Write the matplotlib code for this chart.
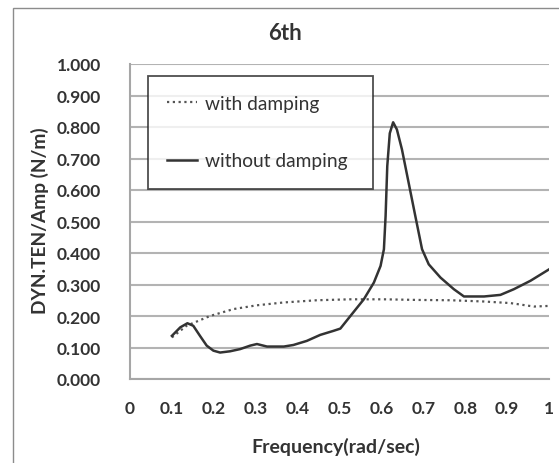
import matplotlib.pyplot as plt
from matplotlib.patches import Rectangle

plt.rcParams['font.family'] = ['Lato', 'DejaVu Sans']

# without damping
freq_nd = [0.10, 0.12, 0.137, 0.151, 0.167, 0.183, 0.199, 0.215, 0.239, 0.263, 0.287, 0.303,
           0.327, 0.367, 0.39, 0.422, 0.454, 0.486, 0.502, 0.526, 0.558, 0.582, 0.598, 0.606,
           0.61, 0.614, 0.62, 0.628, 0.637, 0.649, 0.665, 0.681, 0.697, 0.713, 0.741, 0.773,
           0.797, 0.845, 0.884, 0.916, 0.956, 1.0]
amp_nd = [0.137, 0.164, 0.177, 0.169, 0.137, 0.106, 0.09, 0.084, 0.088, 0.095, 0.106, 0.111,
          0.103, 0.103, 0.108, 0.121, 0.140, 0.153, 0.16, 0.20, 0.253, 0.306, 0.359, 0.412,
          0.517, 0.676, 0.78, 0.815, 0.792, 0.729, 0.623, 0.517, 0.412, 0.364, 0.322, 0.285,
          0.262, 0.262, 0.267, 0.285, 0.312, 0.348]

# with damping
freq_d = [0.10, 0.135, 0.191, 0.247, 0.303, 0.367, 0.446, 0.526, 0.606, 0.685, 0.765,
          0.845, 0.908, 0.964, 1.0]
amp_d = [0.132, 0.169, 0.20, 0.222, 0.234, 0.243, 0.250, 0.253, 0.253, 0.251, 0.250,
         0.246, 0.241, 0.230, 0.232]

xticks = [0, 0.1, 0.2, 0.3, 0.4, 0.5, 0.6, 0.7, 0.8, 0.9, 1]
xlabels = ['0', '0.1', '0.2', '0.3', '0.4', '0.5', '0.6', '0.7', '0.8', '0.9', '1']
yticks = [0.0, 0.1, 0.2, 0.3, 0.4, 0.5, 0.6, 0.7, 0.8, 0.9, 1.0]

fig = plt.figure(figsize=(5.59, 4.64), dpi=100)
W, H = 559, 464

# outer chart border (cut off at right and bottom)
fig.patches.append(Rectangle((13 / W, -0.1), 1.2, 1 - 9 / H + 0.1, transform=fig.transFigure,
                             fill=False, edgecolor='#8c8c8c', linewidth=1.0))

ax = fig.add_axes([130 / W, 1 - 380 / H, 419 / W, 315 / H])

ax.plot(freq_d, amp_d, color='#555555', linestyle=(0, (1, 1.6)), linewidth=1.6, label='with damping')
ax.plot(freq_nd, amp_nd, color='#333333', linestyle='-', linewidth=1.8, label='without damping')

ax.set_xlim(0, 1)
ax.set_ylim(0, 1)
ax.set_xticks(xticks)
ax.set_xticklabels(xlabels)
ax.set_yticks(yticks)
ax.set_yticklabels([f'{v:.3f}' for v in yticks])
ax.tick_params(length=0, labelsize=12.5, colors='#333333')
ax.tick_params(axis='x', pad=15)
ax.tick_params(axis='y', pad=21)
for lab in ax.get_xticklabels() + ax.get_yticklabels():
    lab.set_fontweight('bold')

ax.yaxis.grid(True, color='#b3b3b3', linewidth=1.5)
ax.set_axisbelow(True)
for s in ['top', 'right']:
    ax.spines[s].set_visible(False)
for s in ['left', 'bottom']:
    ax.spines[s].set_color('#a6a6a6')
    ax.spines[s].set_linewidth(1.5)

fig.text(336 / W, 1 - 447 / H, 'Frequency(rad/sec)', ha='center', va='center', fontsize=14,
         fontweight='bold', color='#333333')
fig.text(40 / W, 1 - 221 / H, 'DYN.TEN/Amp (N/m)', ha='center', va='center', rotation=90,
         fontsize=13.8, fontweight='bold', color='#333333')
fig.text(285 / W, 1 - 33 / H, '6th', ha='center', va='center', fontsize=16, fontweight='bold',
         color='#333333')

leg = ax.legend(loc='upper left', bbox_to_anchor=(18 / 419, 0.1, 225 / 419, (380 - 77) / 315 - 0.1),
                mode='expand', fontsize=13.8, frameon=True, fancybox=False, edgecolor='#222222',
                labelspacing=2.1, borderpad=1.0, handlelength=1.55, handletextpad=0.42,
                borderaxespad=0)
leg.get_frame().set_linewidth(1.3)
for t in leg.get_texts():
    t.set_color('#333333')

plt.savefig('out.png', dpi=100)
